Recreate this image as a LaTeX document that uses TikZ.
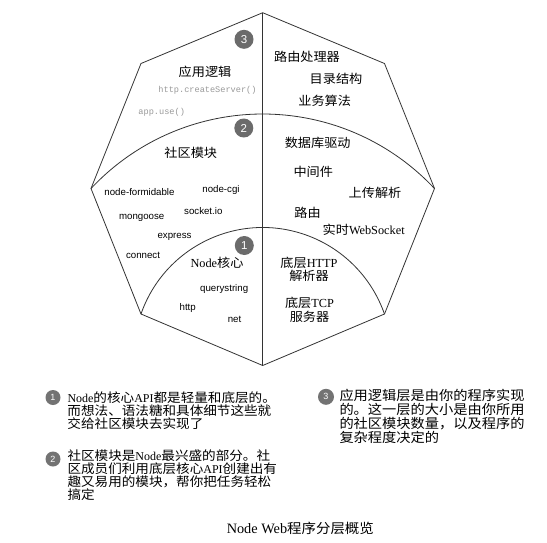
\documentclass[tikz,border=0pt]{standalone}
\usepackage{fontspec}
\setmainfont{Liberation Serif}
\newfontfamily\cjk[FakeStretch=1.07]{Noto Sans CJK SC}
\newfontfamily\lsans{Liberation Sans}
\newfontfamily\lmono{Liberation Mono}
\newcommand\en[1]{{\rmfamily #1}}
\newcommand\enn[1]{{\rmfamily\fontsize{12}{12.9}\selectfont #1}}
\newcommand\zh[1]{{\cjk #1}}
\tikzset{
  outline/.style={draw=black!80, line width=0.8pt},
  badge/.style={circle, fill=black!58, text=white, font=\lsans\fontsize{11.5}{11.5}\selectfont, inner sep=0pt, minimum size=19pt},
  smallbadge/.style={circle, fill=black!55, text=white, font=\lsans\fontsize{9}{9}\selectfont, inner sep=0pt, minimum size=15pt},
  zhlabel/.style={font=\cjk\fontsize{12.3}{14}\selectfont, inner sep=0pt, align=center},
  modlabel/.style={font=\lsans\fontsize{9.7}{11}\selectfont, inner sep=0pt},
  codelabel/.style={font=\lmono\fontsize{8.6}{10}\selectfont, text=black!40, inner sep=0pt},
  notetext/.style={anchor=north west, align=left, inner sep=0pt, font=\cjk\fontsize{12.7}{12.9}\selectfont},
  notetextb/.style={anchor=north west, align=left, inner sep=0pt, font=\cjk\fontsize{13.3}{13.9}\selectfont},
}
\begin{document}
\begin{tikzpicture}[x=1pt, y=-1pt]
\useasboundingbox (0,0) rectangle (547,542);
\fill[white] (0,0) rectangle (547,542);

% outline vertices
\coordinate (T) at (262.7,12.7);
\coordinate (UR) at (384.5,63.5);
\coordinate (R) at (434.5,188.5);
\coordinate (LR) at (384.5,314);
\coordinate (B) at (262.7,365.5);
\coordinate (LL) at (141,314);
\coordinate (L) at (91,188.5);
\coordinate (UL) at (141,63.5);

\draw[outline] (T) -- (UR) -- (R) -- (LR) -- (B) -- (LL) -- (L) -- (UL) -- cycle;
\draw[outline] (T) -- (B);
\draw[outline] (L) arc[start angle=223.1, end angle=316.9, radius=235.2];
\draw[outline] (LL) arc[start angle=199.2, end angle=340.8, radius=128.9];

% badges
\node[badge] (b3) at (244,39.3) {3};
\node[badge] (b2) at (243.8,128) {2};
\node[badge] (b1) at (244.3,245.5) {1};

% layer 3
\node[zhlabel] (app) at (205,71.7) {应用逻辑};
\node[codelabel] (cs) at (207.5,90.7) {http.createServer()};
\node[codelabel] (use) at (161.7,112.7) {app.use()};
\node[zhlabel] (rh) at (307,56.7) {路由处理器};
\node[zhlabel] (dir) at (336,79) {目录结构};
\node[zhlabel] (biz) at (324.7,101) {业务算法};

% layer 2
\node[zhlabel] (comm) at (190.8,153.3) {社区模块};
\node[zhlabel] (db) at (317.7,142.7) {数据库驱动};
\node[zhlabel] (mw) at (313.3,171.7) {中间件};
\node[zhlabel] (up) at (375,192.7) {上传解析};
\node[zhlabel] (route) at (307.5,212.7) {路由};
\node[zhlabel] (ws) at (363.7,229.3) {实时\en{WebSocket}};
\node[modlabel] (nf) at (139.5,191.7) {node-formidable};
\node[modlabel] (cgi) at (221,190) {node-cgi};
\node[modlabel] (sio) at (203.3,210.7) {socket.io};
\node[modlabel] (mg) at (141.7,217.7) {mongoose};
\node[modlabel] (ex) at (174.5,236.7) {express};
\node[modlabel] (cn) at (143,255) {connect};

% layer 1
\node[zhlabel] (core) at (217,263.3) {\en{Node}核心};
\node[modlabel] (qs) at (224.2,289) {querystring};
\node[modlabel] (http) at (187.7,308.3) {http};
\node[modlabel] (net) at (234.5,319.3) {net};
\node[zhlabel, font=\cjk\fontsize{12.3}{13.3}\selectfont] (hp) at (309,269.3) {底层\en{HTTP}\\解析器};
\node[zhlabel, font=\cjk\fontsize{12.3}{14.5}\selectfont] (tcp) at (309.5,310) {底层\en{TCP}\\服务器};

% notes
\node[smallbadge] (n1) at (53,397.5) {1};
\node[notetext] (t1) at (67.3,391.5) {\enn{Node}的核心\enn{API}都是轻量和底层的。\\而想法、语法糖和具体细节这些就\\交给社区模块去实现了};
\node[smallbadge] (n2) at (53,459) {2};
\node[notetext] (t2) at (67.3,449.8) {社区模块是\enn{Node}最兴盛的部分。社\\区成员们利用底层核心\enn{API}创建出有\\趣又易用的模块，帮你把任务轻松\\搞定};
\node[smallbadge, minimum size=16pt] (n3) at (326,396.8) {3};
\node[notetextb] (t3) at (339.3,389) {应用逻辑层是由你的程序实现\\的。这一层的大小是由你所用\\的社区模块数量，以及程序的\\复杂程度决定的};

% caption
\node[inner sep=0pt, font=\fontsize{14.3}{16}\selectfont] (cap) at (300.3,528) {Node Web\zh{\fontsize{13.5}{16}\selectfont 程序分层概览}};
\end{tikzpicture}
\end{document}
